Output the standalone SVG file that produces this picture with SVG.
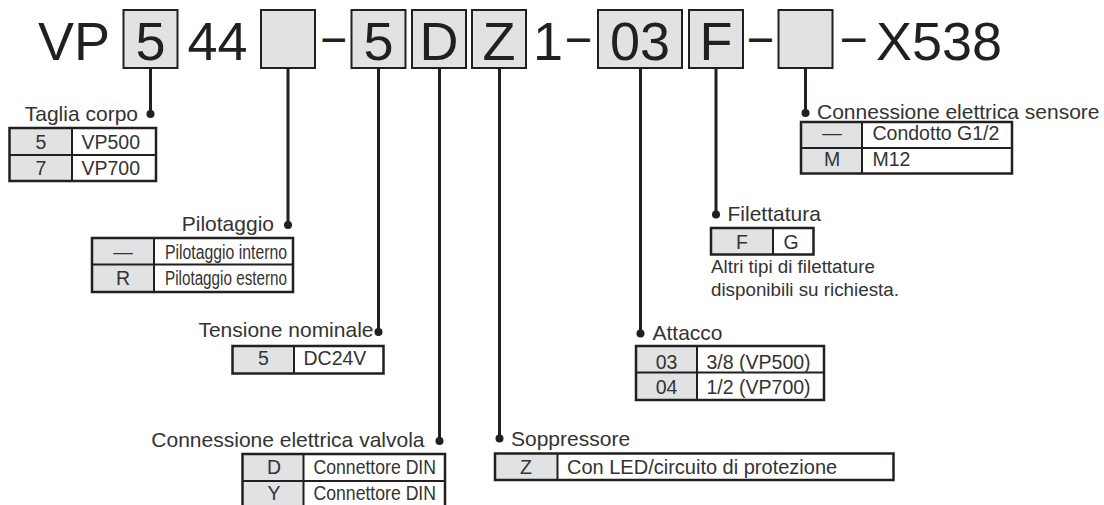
<svg xmlns="http://www.w3.org/2000/svg" width="1104" height="505" viewBox="0 0 1104 505">
<style>
.code{font-family:"Liberation Sans",Arial,sans-serif;font-size:54px;fill:#231f20}
.box{fill:#e1e2e4;stroke:#231f20;stroke-width:2}
.lbl{font-family:"Liberation Sans",Arial,sans-serif;font-size:21px;fill:#333}
.cell{font-family:"Liberation Sans",Arial,sans-serif;font-size:19.5px;fill:#333}
.note{font-family:"Liberation Sans",Arial,sans-serif;font-size:18.8px;fill:#333}
.c{text-anchor:middle}
.e{text-anchor:end}
.tb{fill:none;stroke:#231f20;stroke-width:2.5}
.g{fill:#e1e2e4}
.ln{stroke:#231f20;stroke-width:2}
.conn{stroke:#231f20;stroke-width:3;fill:none}
.dot{fill:#231f20}
</style>
<rect width="1104" height="505" fill="#fff"/>
<g id="code">
  <text class="code" x="38" y="60">VP</text>
  <rect class="box" x="123.5" y="10" width="54" height="58"/>
  <text class="code c" x="150.5" y="60">5</text>
  <text class="code" x="187.5" y="60">44</text>
  <rect class="box" x="261" y="10" width="54" height="58"/>
  <text class="code" x="322.5" y="54" textLength="22.5" lengthAdjust="spacingAndGlyphs">–</text>
  <rect class="box" x="351.5" y="10" width="54" height="58"/>
  <text class="code c" x="378.5" y="60">5</text>
  <rect class="box" x="412" y="10" width="54" height="58"/>
  <text class="code c" x="439" y="60">D</text>
  <rect class="box" x="472" y="10" width="54" height="58"/>
  <text class="code c" x="499" y="60">Z</text>
  <text class="code" x="533" y="60">1</text>
  <text class="code" x="567" y="54" textLength="23" lengthAdjust="spacingAndGlyphs">–</text>
  <rect class="box" x="598" y="10" width="84" height="58"/>
  <text class="code c" x="640" y="60">03</text>
  <rect class="box" x="689" y="10" width="54" height="58"/>
  <text class="code c" x="716" y="60">F</text>
  <text class="code" x="749" y="54" textLength="23" lengthAdjust="spacingAndGlyphs">–</text>
  <rect class="box" x="778.5" y="10" width="54" height="58"/>
  <text class="code" x="842" y="54" textLength="23.5" lengthAdjust="spacingAndGlyphs">–</text>
  <text class="code" x="876" y="60">X538</text>
</g>
<g id="connectors">
  <path class="conn" d="M150.5 68V114M288 68V225M378.5 68V332M439.5 68V441M499.5 68V438.5M640.5 68V333.5M716 68V214.5M805.5 68V113"/>
  <circle class="dot" cx="150.5" cy="114" r="4"/>
  <circle class="dot" cx="288" cy="225" r="4"/>
  <circle class="dot" cx="378.5" cy="332" r="4"/>
  <circle class="dot" cx="439.5" cy="441" r="4"/>
  <circle class="dot" cx="499.5" cy="438.5" r="4"/>
  <circle class="dot" cx="640.5" cy="333.5" r="4"/>
  <circle class="dot" cx="716" cy="214.5" r="4"/>
  <circle class="dot" cx="805.5" cy="113" r="4"/>
</g>
<g id="taglia-corpo">
  <text class="lbl e" x="138" y="121">Taglia corpo</text>
  <rect class="g" x="9.5" y="128" width="62.5" height="53"/>
  <rect class="tb" x="9.5" y="128" width="146.5" height="53"/>
  <path class="ln" d="M72 128V181M9.5 155H156"/>
  <text class="cell c" x="41" y="148.5">5</text>
  <text class="cell" x="81.5" y="148.5">VP500</text>
  <text class="cell c" x="41" y="175">7</text>
  <text class="cell" x="81.5" y="175">VP700</text>
</g>
<g id="pilotaggio">
  <text class="lbl e" x="274" y="231">Pilotaggio</text>
  <rect class="g" x="92" y="238" width="62" height="54"/>
  <rect class="tb" x="92" y="238" width="201" height="54"/>
  <path class="ln" d="M154 238V292M92 264.5H293"/>
  <text class="cell c" x="123" y="258.5">—</text>
  <text class="cell" x="165" y="258.5" textLength="122" lengthAdjust="spacingAndGlyphs">Pilotaggio interno</text>
  <text class="cell c" x="123" y="285">R</text>
  <text class="cell" x="165" y="285" textLength="122" lengthAdjust="spacingAndGlyphs">Pilotaggio esterno</text>
</g>
<g id="tensione">
  <text class="lbl e" x="373.5" y="337">Tensione nominale</text>
  <rect class="g" x="232.5" y="346" width="61.5" height="27.5"/>
  <rect class="tb" x="232.5" y="346" width="151" height="27.5"/>
  <path class="ln" d="M294 346V373.5"/>
  <text class="cell c" x="263.5" y="365">5</text>
  <text class="cell" x="303.5" y="365">DC24V</text>
</g>
<g id="connessione-valvola">
  <text class="lbl e" x="424.5" y="447">Connessione elettrica valvola</text>
  <rect class="g" x="242.5" y="454" width="61" height="54"/>
  <rect class="tb" x="242.5" y="454" width="202.5" height="54"/>
  <path class="ln" d="M303.5 454V508M242.5 481H445"/>
  <text class="cell c" x="274" y="473.5">D</text>
  <text class="cell" x="313.5" y="473.5" textLength="122.5" lengthAdjust="spacingAndGlyphs">Connettore DIN</text>
  <text class="cell c" x="274" y="500">Y</text>
  <text class="cell" x="313.5" y="500" textLength="122.5" lengthAdjust="spacingAndGlyphs">Connettore DIN</text>
</g>
<g id="soppressore">
  <text class="lbl" x="511" y="446">Soppressore</text>
  <rect class="g" x="495" y="453.5" width="62.5" height="26.5"/>
  <rect class="tb" x="495" y="453.5" width="398.5" height="26.5"/>
  <path class="ln" d="M557.5 453.5V480"/>
  <text class="cell c" x="526" y="473.5">Z</text>
  <text class="cell" x="567" y="473.5" style="font-size:20px">Con LED/circuito di protezione</text>
</g>
<g id="attacco">
  <text class="lbl" x="652.5" y="339.5">Attacco</text>
  <rect class="g" x="636" y="346" width="61" height="54"/>
  <rect class="tb" x="636" y="346" width="188" height="54"/>
  <path class="ln" d="M697 346V400M636 372.5H824"/>
  <text class="cell c" x="666.5" y="368.5">03</text>
  <text class="cell" x="706.5" y="368.5">3/8 (VP500)</text>
  <text class="cell c" x="666.5" y="393.5">04</text>
  <text class="cell" x="706.5" y="393.5">1/2 (VP700)</text>
</g>
<g id="filettatura">
  <text class="lbl" x="727.5" y="221">Filettatura</text>
  <rect class="g" x="711" y="228" width="62" height="26.5"/>
  <rect class="tb" x="711" y="228" width="102.5" height="26.5"/>
  <path class="ln" d="M773 228V254.5"/>
  <text class="cell c" x="742" y="248.5">F</text>
  <text class="cell c" x="791" y="248.5">G</text>
  <text class="note" x="711" y="273">Altri tipi di filettature</text>
  <text class="note" x="711" y="295.5">disponibili su richiesta.</text>
</g>
<g id="connessione-sensore">
  <text class="lbl" x="817" y="118.5">Connessione elettrica sensore</text>
  <rect class="g" x="801" y="122" width="61" height="51.5"/>
  <rect class="tb" x="801" y="122" width="211" height="51.5"/>
  <path class="ln" d="M862 122V173.5M801 148H1012"/>
  <text class="cell c" x="832" y="140">—</text>
  <text class="cell" x="872.5" y="140">Condotto G1/2</text>
  <text class="cell c" x="832" y="166">M</text>
  <text class="cell" x="872.5" y="166">M12</text>
</g>
</svg>
